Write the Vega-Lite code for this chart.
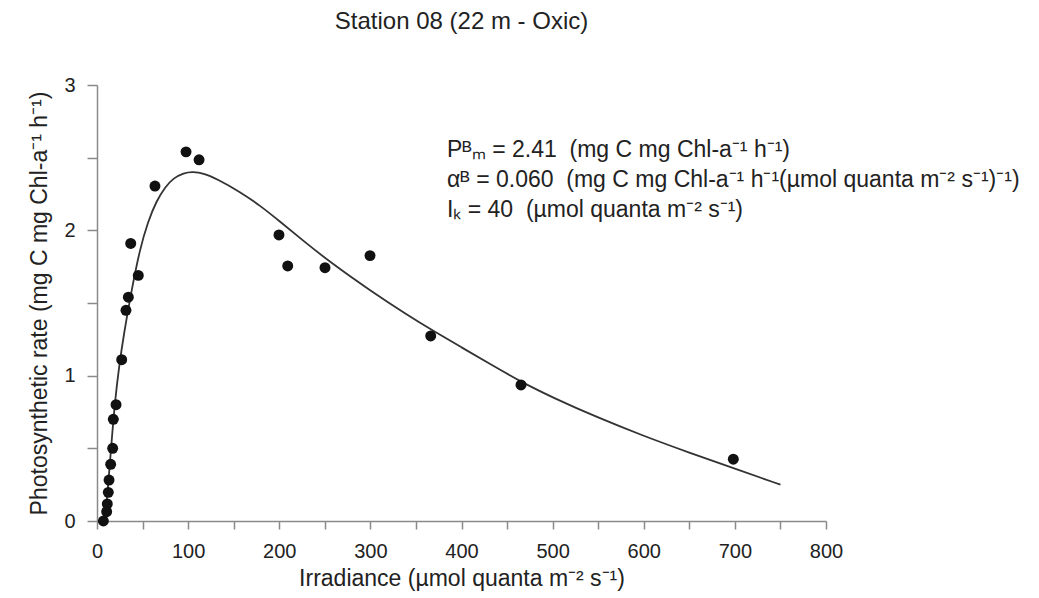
{
  "$schema": "https://vega.github.io/schema/vega-lite/v6.json",
  "autosize": {"type": "none"},
  "width": 729,
  "height": 436,
  "padding": {"left": 97, "top": 85, "right": 213, "bottom": 77},
  "background": "white",
  "config": {
    "view": {"stroke": null},
    "font": "Liberation Sans",
    "axis": {
      "grid": false,
      "domainColor": "#8a8a8a",
      "tickColor": "#8a8a8a",
      "domainWidth": 1.5,
      "tickWidth": 1.5,
      "labelColor": "#222222",
      "titleColor": "#222222",
      "labelFont": "Liberation Sans",
      "titleFont": "Liberation Sans",
      "labelFontSize": 20,
      "titleFontSize": 23,
      "titleFontWeight": "normal"
    }
  },
  "title": {
    "text": "Station 08 (22 m - Oxic)",
    "font": "Liberation Sans",
    "fontSize": 24,
    "fontWeight": "normal",
    "color": "#222222",
    "anchor": "middle",
    "offset": 41
  },
  "datasets": {
    "obs": [
      {"irradiance": 7, "rate": 0.0},
      {"irradiance": 10.6, "rate": 0.064},
      {"irradiance": 11.3, "rate": 0.117},
      {"irradiance": 12.4, "rate": 0.197},
      {"irradiance": 13.2, "rate": 0.282},
      {"irradiance": 15.0, "rate": 0.39},
      {"irradiance": 17.2, "rate": 0.5},
      {"irradiance": 17.9, "rate": 0.7},
      {"irradiance": 20.9, "rate": 0.8},
      {"irradiance": 27.1, "rate": 1.11},
      {"irradiance": 31.8, "rate": 1.45},
      {"irradiance": 34.4, "rate": 1.54},
      {"irradiance": 37, "rate": 1.91},
      {"irradiance": 45.3, "rate": 1.69},
      {"irradiance": 63.6, "rate": 2.305},
      {"irradiance": 97.7, "rate": 2.54},
      {"irradiance": 112, "rate": 2.485},
      {"irradiance": 199.7, "rate": 1.968},
      {"irradiance": 209.3, "rate": 1.755},
      {"irradiance": 250.2, "rate": 1.743},
      {"irradiance": 299.6, "rate": 1.826},
      {"irradiance": 366.2, "rate": 1.273},
      {"irradiance": 465.3, "rate": 0.936},
      {"irradiance": 698.3, "rate": 0.425}
    ],
    "fit": [
      {"irradiance": 7, "rate": 0.0},
      {"irradiance": 9, "rate": 0.04},
      {"irradiance": 12, "rate": 0.22},
      {"irradiance": 16, "rate": 0.55},
      {"irradiance": 20, "rate": 0.84},
      {"irradiance": 24, "rate": 1.05},
      {"irradiance": 29, "rate": 1.27},
      {"irradiance": 38, "rate": 1.59},
      {"irradiance": 47, "rate": 1.87},
      {"irradiance": 56, "rate": 2.06},
      {"irradiance": 65, "rate": 2.2},
      {"irradiance": 75, "rate": 2.3},
      {"irradiance": 84, "rate": 2.36},
      {"irradiance": 95, "rate": 2.395},
      {"irradiance": 105, "rate": 2.405},
      {"irradiance": 118, "rate": 2.39},
      {"irradiance": 131, "rate": 2.355},
      {"irradiance": 157, "rate": 2.265},
      {"irradiance": 179, "rate": 2.17},
      {"irradiance": 200, "rate": 2.065},
      {"irradiance": 225, "rate": 1.935},
      {"irradiance": 256, "rate": 1.78},
      {"irradiance": 300, "rate": 1.585},
      {"irradiance": 340, "rate": 1.42},
      {"irradiance": 370, "rate": 1.305},
      {"irradiance": 400, "rate": 1.195},
      {"irradiance": 430, "rate": 1.085},
      {"irradiance": 466, "rate": 0.955},
      {"irradiance": 500, "rate": 0.85},
      {"irradiance": 550, "rate": 0.71},
      {"irradiance": 600, "rate": 0.585},
      {"irradiance": 650, "rate": 0.47},
      {"irradiance": 700, "rate": 0.36},
      {"irradiance": 750, "rate": 0.25}
    ]
  },
  "layer": [
    {
      "data": {"name": "fit"},
      "mark": {"type": "line", "color": "#333333", "strokeWidth": 1.8, "interpolate": "basis", "clip": true},
      "encoding": {
        "x": {
          "field": "irradiance", "type": "quantitative",
          "scale": {"domain": [0, 800], "nice": false, "zero": false},
          "axis": {
            "title": "Irradiance (µmol quanta m⁻² s⁻¹)",
            "values": [0, 50, 100, 150, 200, 250, 300, 350, 400, 450, 500, 550, 600, 650, 700, 750, 800],
            "labelExpr": "datum.value % 100 === 0 ? format(datum.value, 'd') : ''",
            "tickSize": 8,
            "labelPadding": 12,
            "titlePadding": 6,
            "labelFlush": false,
            "labelOverlap": false
          }
        },
        "y": {
          "field": "rate", "type": "quantitative",
          "scale": {"domain": [0, 3], "nice": false},
          "axis": {
            "title": "Photosynthetic rate (mg C mg Chl-a⁻¹ h⁻¹)",
            "values": [0, 0.5, 1, 1.5, 2, 2.5, 3],
            "labelExpr": "datum.value % 1 === 0 ? format(datum.value, 'd') : ''",
            "tickSize": 10,
            "labelPadding": 12,
            "titlePadding": 12,
            "labelFlush": false,
            "labelOverlap": false
          }
        }
      }
    },
    {
      "data": {"name": "obs"},
      "mark": {"type": "point", "filled": true, "color": "#111111", "size": 120, "opacity": 1},
      "encoding": {
        "x": {"field": "irradiance", "type": "quantitative"},
        "y": {"field": "rate", "type": "quantitative"}
      }
    },
    {
      "data": {"values": [{}]},
      "mark": {
        "type": "text",
        "align": "left",
        "baseline": "middle",
        "font": "Liberation Sans",
        "fontSize": 23,
        "lineHeight": 30,
        "color": "#222222",
        "text": [
          "Pᴮₘ = 2.41 \u00a0(mg C mg Chl-a⁻¹ h⁻¹)",
          "αᴮ = 0.060 \u00a0(mg C mg Chl-a⁻¹ h⁻¹(µmol quanta m⁻² s⁻¹)⁻¹)",
          "Iₖ = 40 \u00a0(µmol quanta m⁻² s⁻¹)"
        ]
      },
      "encoding": {
        "x": {"datum": 384, "type": "quantitative"},
        "y": {"datum": 2.553, "type": "quantitative"}
      }
    }
  ]
}
